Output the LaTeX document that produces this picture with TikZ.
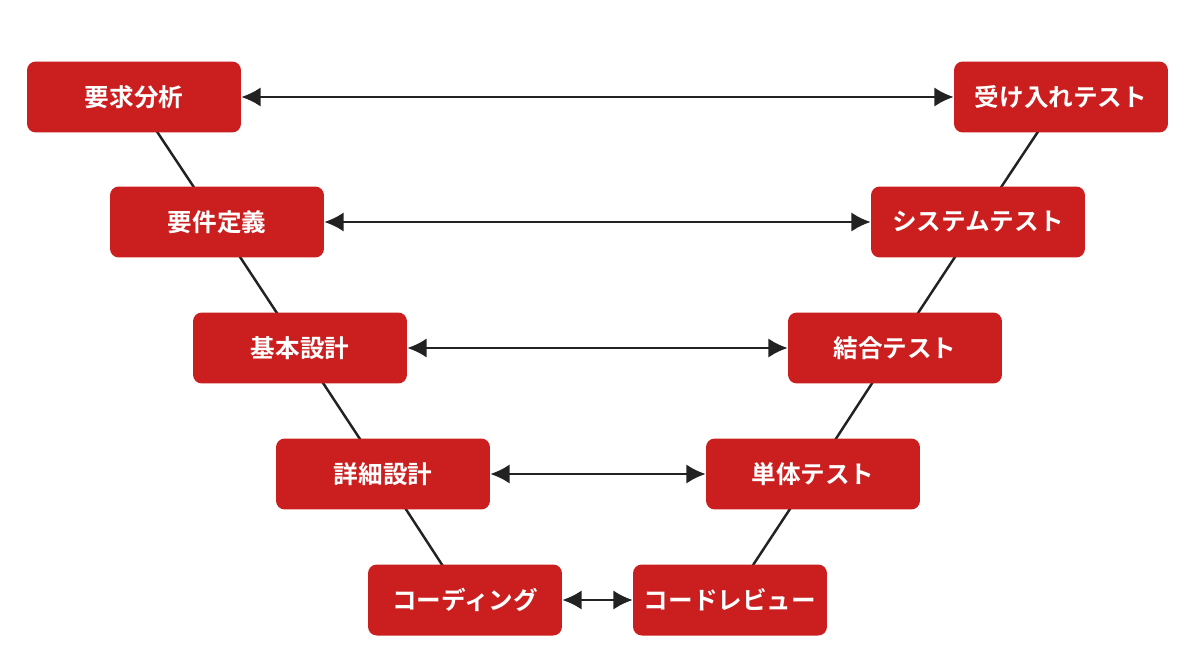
\documentclass[tikz,border=0pt]{standalone}
\usepackage{fontspec}
\setmainfont{Noto Sans CJK JP}[BoldFont={* Bold}]
\usetikzlibrary{arrows.meta}
\definecolor{boxred}{HTML}{CB1E1F}
\definecolor{ink}{HTML}{222222}
\begin{document}
\begin{tikzpicture}[x=0.02cm,y=-0.02cm,
  box/.style={fill=boxred,rounded corners=5pt,minimum width=4.28cm,minimum height=1.42cm,text=white,font=\bfseries\fontsize{14}{16}\selectfont,inner sep=0pt},
  sbox/.style={box,minimum width=3.88cm},
  link/.style={ink,line width=1.4pt},
  pair/.style={ink,line width=1.4pt,{Latex[length=11pt,width=11pt]}-{Latex[length=11pt,width=11pt]}}]
\useasboundingbox (0,0) rectangle (1200,659);
\fill[white] (0,0) rectangle (1200,659);
\coordinate (l1) at (134,97); \coordinate (r1) at (1061,97);
\coordinate (l2) at (217,222); \coordinate (r2) at (978,222);
\coordinate (l3) at (300,348); \coordinate (r3) at (895,348);
\coordinate (l4) at (383,474); \coordinate (r4) at (813,474);
\coordinate (l5) at (465,600); \coordinate (r5) at (730,600);
\draw[link] (l1)--(l2)--(l3)--(l4)--(l5);
\draw[link] (r1)--(r2)--(r3)--(r4)--(r5);
\node[box] (a1) at (l1) {要求分析};
\node[box] (b1) at (r1) {受け入れテスト};
\node[box] (a2) at (l2) {要件定義};
\node[box] (b2) at (r2) {システムテスト};
\node[box] (a3) at (l3) {基本設計};
\node[box] (b3) at (r3) {結合テスト};
\node[box] (a4) at (l4) {詳細設計};
\node[box] (b4) at (r4) {単体テスト};
\node[sbox] (a5) at (l5) {コーディング};
\node[sbox] (b5) at (r5) {コードレビュー};
\foreach \i in {1,...,5}{\draw[pair] (a\i) -- (b\i);}
\end{tikzpicture}
\end{document}
